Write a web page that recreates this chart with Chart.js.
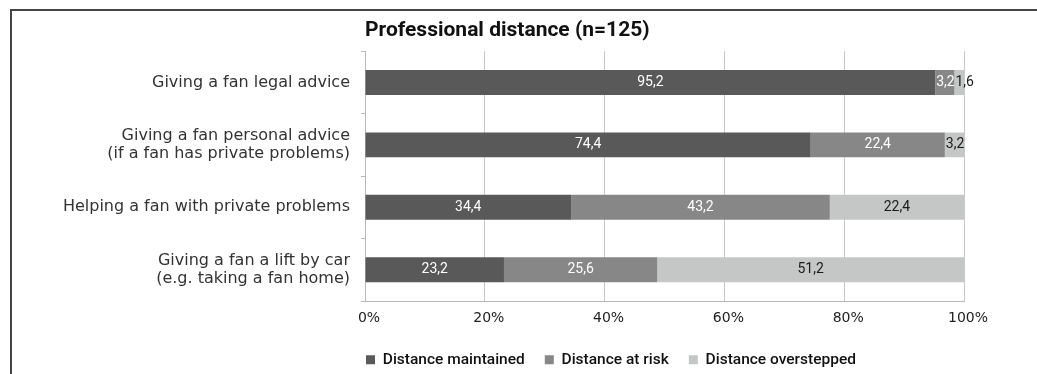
<!DOCTYPE html>
<html lang="en">
<head>
  <meta charset="UTF-8" />
  <title>Professional distance</title>
  <script src="https://cdn.jsdelivr.net/npm/chart.js"></script>
  <style>
    body {
      margin: 0;
      background: #fff;
      font-family: Roboto, sans-serif;
    }

    .frame {
      position: absolute;
      left: 10px;
      top: 9px;
      width: 1027px;
      height: 365px;
      border-top: 2px solid #444;
      border-left: 2px solid #444;
    }

    .frame canvas {
      display: block;
    }
  </style>
</head>
<body>

  <div class="frame">
    <canvas id="chart" width="1025" height="363"></canvas>
  </div>

  <script>
    const categories = [
      'Giving a fan legal advice',
      ['Giving a fan personal advice', '(if a fan has private problems)'],
      'Helping a fan with private problems',
      ['Giving a fan a lift by car', '(e.g. taking a fan home)']
    ];
    const maintained = [95.2, 74.4, 34.4, 23.2];
    const atRisk = [3.2, 22.4, 43.2, 25.6];
    const overstepped = [1.6, 3.2, 22.4, 51.2];
    const seriesNames = ['Distance maintained', 'Distance at risk', 'Distance overstepped'];
    const xTicks = [0, 20, 40, 60, 80, 100];

    // values written inside the bars, with a comma as decimal mark
    const barLabels = {
      id: 'barLabels',
      afterDatasetsDraw(chart) {
        const ctx = chart.ctx;
        ctx.save();
        ctx.font = '14px Roboto';
        ctx.textBaseline = 'middle';
        chart.data.datasets.forEach((ds, i) => {
          const meta = chart.getDatasetMeta(i);
          ctx.fillStyle = i === 2 ? '#1a1a1a' : '#ffffff';
          meta.data.forEach((bar, j) => {
            const text = String(ds.data[j]).replace('.', ',');
            const w = ctx.measureText(text).width;
            const left = Math.min(bar.x, bar.base);
            const size = Math.abs(bar.x - bar.base);
            if (w + 2 > size) {
              ctx.textAlign = 'left';
              ctx.fillText(text, left + 1, bar.y);
            } else {
              ctx.textAlign = 'center';
              ctx.fillText(text, left + size / 2, bar.y);
            }
          });
        });
        ctx.restore();
      }
    };

    new Chart(document.getElementById('chart'), {
      type: 'bar',
      data: {
        labels: categories,
        datasets: [
          { label: seriesNames[0], data: maintained, backgroundColor: '#595959' },
          { label: seriesNames[1], data: atRisk, backgroundColor: '#878787' },
          { label: seriesNames[2], data: overstepped, backgroundColor: '#c5c7c7' }
        ]
      },
      options: {
        indexAxis: 'y',
        responsive: false,
        animation: false,
        barPercentage: 0.4,
        categoryPercentage: 1,
        // big left padding keeps the legend centred where the original has it
        layout: { padding: { left: 246, right: 73, top: 0, bottom: 0 } },
        scales: {
          x: {
            stacked: true,
            min: 0,
            max: 100,
            afterBuildTicks: (scale) => { scale.ticks = xTicks.map(v => ({ value: v })); },
            afterFit: (scale) => { scale.height = 31; },
            grid: { color: '#c8c8c8', drawTicks: false, tickLength: 0 },
            border: { color: '#b8b8b8' },
            ticks: {
              padding: 9,
              labelOffset: 4,
              color: '#222',
              font: { family: 'DejaVu Sans', size: 14 },
              callback: (v) => v + '%'
            }
          },
          y: {
            stacked: true,
            afterFit: (scale) => {
              scale.width = 107;
              // let the category labels run into the padding on the left
              scale._computeLabelArea = () => null;
            },
            grid: { drawOnChartArea: false, tickLength: 4, color: '#b8b8b8' },
            border: { color: '#b8b8b8' },
            ticks: {
              padding: 11,
              color: '#333',
              font: { family: 'DejaVu Sans', size: 16, lineHeight: 1.12 }
            }
          }
        },
        plugins: {
          title: {
            display: true,
            text: 'Professional distance (n=125)',
            align: 'start',
            fullSize: false,
            color: '#111',
            font: { family: 'Roboto', size: 21, weight: 'bold', lineHeight: 1.2 },
            padding: { top: 7, bottom: 8 }
          },
          legend: {
            position: 'bottom',
            maxHeight: 42,
            labels: {
              boxWidth: 9,
              boxHeight: 9,
              padding: 20,
              color: '#111',
              font: { family: 'Roboto', size: 15.5, weight: '500' }
            }
          },
          tooltip: { enabled: false }
        }
      },
      plugins: [barLabels]
    });
  </script>
</body>
</html>
